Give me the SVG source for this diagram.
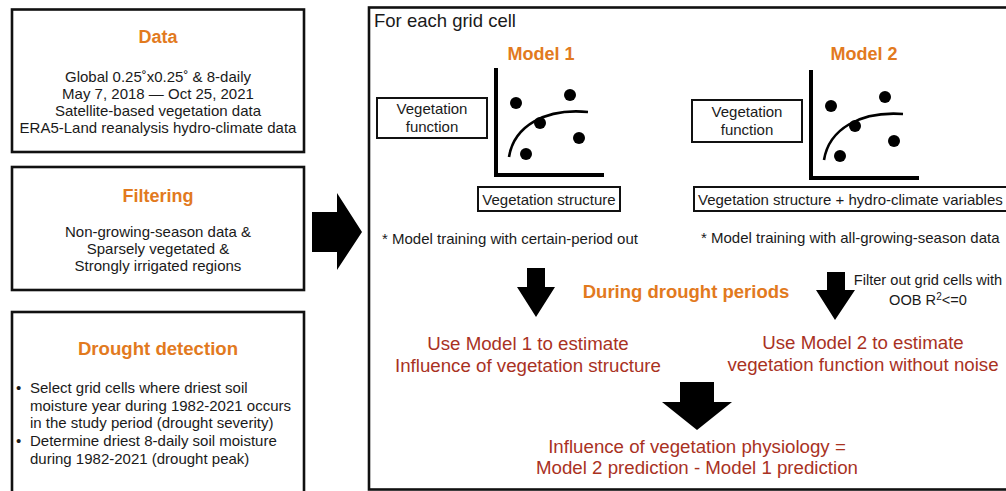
<svg xmlns="http://www.w3.org/2000/svg" width="1006" height="491" viewBox="0 0 1006 491">
<style>
text{font-family:"Liberation Sans",Arial,sans-serif;fill:#1a1a1a}
.box{fill:#fff;stroke:#111;stroke-width:2.6}
.ibox{fill:#fff;stroke:#111;stroke-width:2}
.title{font-weight:bold;fill:#E27A1E;font-size:18px}
.body{font-size:15px}
.lbl{font-size:15px}
.red{fill:#A9321F;font-size:18.7px}
.axis{fill:none;stroke:#000;stroke-width:4}
.curve{fill:none;stroke:#000;stroke-width:2.6}
.dot{fill:#000}
.arrow{fill:#000}
</style>
<rect width="1006" height="491" fill="#fff"/>

<g id="main">
<rect class="box" x="369" y="7.5" width="645" height="482"/>
<text x="374" y="27" font-size="18.5px">For each grid cell</text>
</g>

<g id="data">
<rect class="box" x="12" y="9.5" width="292" height="142.5"/>
<text class="title" x="158" y="43" text-anchor="middle">Data</text>
<text class="body" x="158" y="82" text-anchor="middle">Global 0.25˚x0.25˚ &amp; 8-daily</text>
<text class="body" x="158" y="99" text-anchor="middle">May 7, 2018 — Oct 25, 2021</text>
<text class="body" x="158" y="116" text-anchor="middle">Satellite-based vegetation data</text>
<text class="body" x="158" y="133" text-anchor="middle">ERA5-Land reanalysis hydro-climate data</text>
</g>

<g id="filtering">
<rect class="box" x="12" y="167" width="292" height="123"/>
<text class="title" x="158" y="202" text-anchor="middle">Filtering</text>
<text class="body" x="158" y="237" text-anchor="middle">Non-growing-season data &amp;</text>
<text class="body" x="158" y="254" text-anchor="middle">Sparsely vegetated &amp;</text>
<text class="body" x="158" y="271" text-anchor="middle">Strongly irrigated regions</text>
</g>

<g id="drought-detection">
<rect class="box" x="12" y="312" width="292" height="190"/>
<text class="title" x="158" y="355" text-anchor="middle" style="font-size:18.6px">Drought detection</text>
<text class="body" x="16" y="393">•</text>
<text class="body" x="30" y="393">Select grid cells where driest soil</text>
<text class="body" x="30" y="411">moisture year during 1982-2021 occurs</text>
<text class="body" x="30" y="428">in the study period (drought severity)</text>
<text class="body" x="16" y="446">•</text>
<text class="body" x="30" y="446">Determine driest 8-daily soil moisture</text>
<text class="body" x="30" y="464">during 1982-2021 (drought peak)</text>
</g>

<g id="model1">
<text class="title" x="541" y="60" text-anchor="middle">Model 1</text>
<path class="axis" d="M496,68 V175 H604"/>
<path class="curve" d="M509,157 C514,126 545,108 588,112"/>
<circle class="dot" cx="516" cy="103" r="6"/>
<circle class="dot" cx="570" cy="95" r="6"/>
<circle class="dot" cx="540" cy="123" r="6"/>
<circle class="dot" cx="579" cy="138" r="6"/>
<circle class="dot" cx="526" cy="154" r="6"/>
<rect class="ibox" x="377" y="98" width="110" height="40"/>
<text class="lbl" x="432" y="114" text-anchor="middle">Vegetation</text>
<text class="lbl" x="432" y="132" text-anchor="middle">function</text>
<rect class="ibox" x="478" y="187" width="142" height="24"/>
<text class="lbl" x="549" y="205" text-anchor="middle">Vegetation structure</text>
<text class="lbl" x="382" y="244">* Model training with certain-period out</text>
</g>

<g id="model2">
<text class="title" x="864" y="60" text-anchor="middle">Model 2</text>
<path class="axis" d="M811,70 V178 H919"/>
<path class="curve" d="M824,160 C829,129 860,111 903,114"/>
<circle class="dot" cx="831" cy="106" r="6"/>
<circle class="dot" cx="885" cy="97" r="6"/>
<circle class="dot" cx="855" cy="126" r="6"/>
<circle class="dot" cx="894" cy="141" r="6"/>
<circle class="dot" cx="840" cy="156" r="6"/>
<rect class="ibox" x="692" y="100" width="110" height="42"/>
<text class="lbl" x="747" y="117" text-anchor="middle">Vegetation</text>
<text class="lbl" x="747" y="135" text-anchor="middle">function</text>
<rect class="ibox" x="694" y="187" width="320" height="24"/>
<text class="lbl" x="698" y="205">Vegetation structure + hydro-climate variables</text>
<text class="lbl" x="701" y="243">* Model training with all-growing-season data</text>
</g>

<g id="drought-periods">
<text class="title" x="686" y="298" text-anchor="middle" style="font-size:18.5px">During drought periods</text>
<text x="928" y="285" text-anchor="middle" font-size="14.6px">Filter out grid cells with</text>
<text x="928" y="305" text-anchor="middle" font-size="14.6px">OOB R<tspan font-size="10px" dy="-5">2</tspan><tspan dy="5">&lt;=0</tspan></text>
</g>

<g id="estimate1">
<text class="red" x="528" y="350" text-anchor="middle">Use Model 1 to estimate</text>
<text class="red" x="528" y="372" text-anchor="middle">Influence of vegetation structure</text>
</g>

<g id="estimate2">
<text class="red" x="863" y="349" text-anchor="middle">Use Model 2 to estimate</text>
<text class="red" x="863" y="371" text-anchor="middle">vegetation function without noise</text>
</g>

<g id="physiology">
<text class="red" x="697" y="453" text-anchor="middle">Influence of vegetation physiology =</text>
<text class="red" x="697" y="474" text-anchor="middle">Model 2 prediction - Model 1 prediction</text>
</g>

<g id="connectors">
<polygon class="arrow" points="312,212 337,212 337,193 362,232 337,270 337,252 312,252"/>
<polygon class="arrow" points="527,268 545,268 545,287 555,287 536,317 517,287 527,287"/>
<polygon class="arrow" points="827,272 845,272 845,290 855,290 835,320 816,290 827,290"/>
<polygon class="arrow" points="680,382 714,382 714,402 732,402 697,430 662,402 680,402"/>
</g>
</svg>
